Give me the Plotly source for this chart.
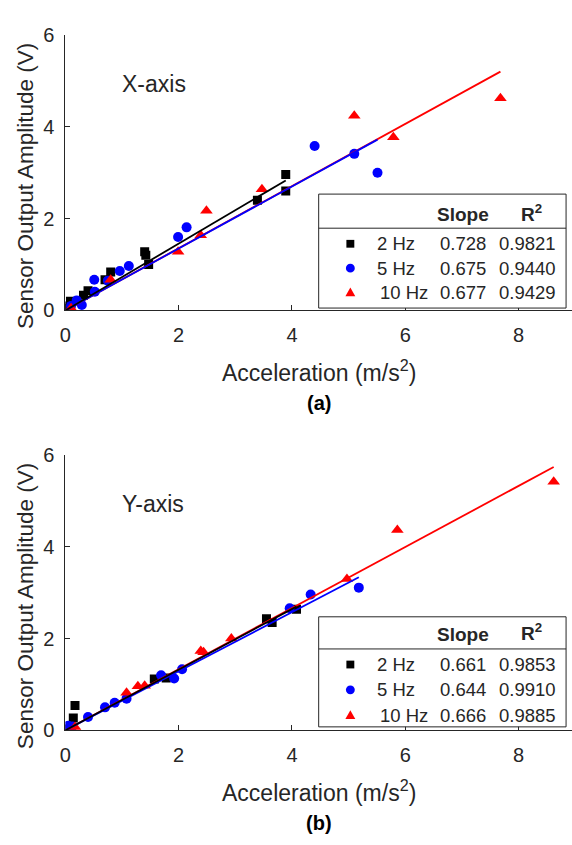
import plotly.graph_objects as go

# ---------------- data ----------------
# (a) X-axis
xa_2hz_x = [0.0, 0.09, 0.05, 0.32, 0.40, 0.70, 0.80, 1.40, 1.42, 1.47, 3.39, 3.89, 3.89]
xa_2hz_y = [0.05, 0.20, 0.10, 0.33, 0.43, 0.67, 0.84, 1.28, 1.20, 1.00, 2.40, 2.96, 2.60]
xa_5hz_x = [0.10, 0.20, 0.29, 0.51, 0.52, 0.75, 0.96, 1.12, 1.99, 2.14, 4.40, 5.10, 5.51]
xa_5hz_y = [0.10, 0.22, 0.12, 0.67, 0.41, 0.65, 0.86, 0.97, 1.60, 1.81, 3.58, 3.41, 3.00]
xa_10hz_x = [0.10, 0.80, 1.99, 2.39, 2.49, 3.47, 5.10, 5.79, 7.68]
xa_10hz_y = [0.05, 0.67, 1.28, 1.64, 2.17, 2.64, 4.24, 3.77, 4.62]
xa_slopes = [0.728, 0.675, 0.677]
xa_r2 = ["0.9821", "0.9440", "0.9429"]

# (b) Y-axis
ya_2hz_x = [0.03, 0.14, 0.17, 1.57, 1.78, 3.55, 3.65, 4.08]
ya_2hz_y = [0.03, 0.27, 0.54, 1.12, 1.14, 2.43, 2.35, 2.64]
ya_5hz_x = [0.05, 0.12, 0.40, 0.70, 0.87, 1.08, 1.69, 1.92, 2.06, 3.96, 4.33, 5.18]
ya_5hz_y = [0.10, 0.08, 0.29, 0.50, 0.60, 0.69, 1.20, 1.13, 1.33, 2.66, 2.96, 3.11]
ya_10hz_x = [0.17, 1.08, 1.28, 1.40, 2.39, 2.44, 2.93, 4.97, 5.86, 8.62]
ya_10hz_y = [0.07, 0.82, 0.96, 0.97, 1.73, 1.70, 2.00, 3.30, 4.37, 5.42]
ya_slopes = [0.661, 0.644, 0.666]
ya_r2 = ["0.9853", "0.9910", "0.9885"]

freq_labels = ["2 Hz", "5 Hz", "10 Hz"]
x_ticks = [0, 2, 4, 6, 8]
y_ticks = [0, 2, 4, 6]
panel_titles = ["X-axis", "Y-axis"]
panel_tags = ["(a)", "(b)"]

# ---------------- styling ----------------
W, H = 572, 845
FONT = "Liberation Sans, Arial, sans-serif"
TXT = "#262626"
colors = ["#000000", "#0000FF", "#FF0000"]
symbols = ["square", "circle", "triangle-up"]
msizes = [9, 10, 11]


def px(x):
    return x / W


def py(y):
    return 1 - y / H


fig = go.Figure()

panels = [
    dict(xs=[xa_2hz_x, xa_5hz_x, xa_10hz_x], ys=[xa_2hz_y, xa_5hz_y, xa_10hz_y],
         slopes=xa_slopes, r2=xa_r2, top=24.5, bottom=307.5, xa="x", ya="y",
         xa2="x2", box=(316, 566, 188, 305), hline=223, hdr=209, rows=[239, 264, 289]),
    dict(xs=[ya_2hz_x, ya_5hz_x, ya_10hz_x], ys=[ya_2hz_y, ya_5hz_y, ya_10hz_y],
         slopes=ya_slopes, r2=ya_r2, top=456, bottom=738.5, xa="x3", ya="y2",
         xa2="x4", box=(316, 566, 622, 735), hline=655, hdr=640, rows=[671, 697, 723]),
]

XL, XR = 60, 572
unit = 57.25
xmax = (XR - XL) / unit

shapes = []
annotations = []

for pi, p in enumerate(panels):
    # markers
    for k in range(3):
        fig.add_trace(go.Scatter(
            x=p["xs"][k], y=p["ys"][k], mode="markers", xaxis=p["xa"], yaxis=p["ya"],
            marker=dict(symbol=symbols[k], size=msizes[k], color=colors[k], line=dict(width=0)),
            showlegend=False, hoverinfo="skip"))
    # fit lines (through origin, slope from table)
    for k in [2, 1, 0]:
        xm = max(p["xs"][k])
        fig.add_trace(go.Scatter(
            x=[0, xm], y=[0, p["slopes"][k] * xm], mode="lines", xaxis=p["xa"], yaxis=p["ya"],
            line=dict(color=colors[k], width=1.8), showlegend=False, hoverinfo="skip"))

    # legend table
    x0, x1, y0, y1 = p["box"]
    shapes.append(dict(type="rect", xref="paper", yref="paper", x0=px(x0), x1=px(x1),
                       y0=py(y1), y1=py(y0), line=dict(color=TXT, width=1), fillcolor="white",
                       layer="above"))
    shapes.append(dict(type="line", xref="paper", yref="paper", x0=px(x0), x1=px(x1),
                       y0=py(p["hline"]), y1=py(p["hline"]), line=dict(color=TXT, width=1),
                       layer="above"))
    annotations.append(dict(text="<b>Slope</b>", x=px(462), y=py(p["hdr"]), xref="paper",
                            yref="paper", showarrow=False, xanchor="center", yanchor="middle",
                            font=dict(family=FONT, size=19, color=TXT)))
    annotations.append(dict(text="<b>R<sup>2</sup></b>", x=px(531), y=py(p["hdr"] - 2), xref="paper",
                            yref="paper", showarrow=False, xanchor="center", yanchor="middle",
                            font=dict(family=FONT, size=19, color=TXT)))
    for k in range(3):
        ry = p["rows"][k]
        mx = 348
        if k == 0:
            shapes.append(dict(type="rect", xref="paper", yref="paper", x0=px(mx - 4), x1=px(mx + 4),
                               y0=py(ry + 4), y1=py(ry - 4), fillcolor=colors[k],
                               line=dict(width=0), layer="above"))
        elif k == 1:
            shapes.append(dict(type="circle", xref="paper", yref="paper", x0=px(mx - 4.5),
                               x1=px(mx + 4.5), y0=py(ry + 4.5), y1=py(ry - 4.5),
                               fillcolor=colors[k], line=dict(width=0), layer="above"))
        else:
            path = "M {} {} L {} {} L {} {} Z".format(px(mx - 5), py(ry + 4), px(mx + 5), py(ry + 4),
                                                       px(mx), py(ry - 5))
            shapes.append(dict(type="path", xref="paper", yref="paper", path=path,
                               fillcolor=colors[k], line=dict(width=0), layer="above"))
        annotations.append(dict(text=freq_labels[k], x=px(373 if k < 2 else 376), y=py(ry),
                                xref="paper", yref="paper", showarrow=False, xanchor="left",
                                yanchor="middle", font=dict(family=FONT, size=18.5, color=TXT)))
        annotations.append(dict(text="{:.3f}".format(p["slopes"][k]), x=px(437), y=py(ry),
                                xref="paper", yref="paper", showarrow=False, xanchor="left",
                                yanchor="middle", font=dict(family=FONT, size=18.5, color=TXT)))
        annotations.append(dict(text=p["r2"][k], x=px(496), y=py(ry),
                                xref="paper", yref="paper", showarrow=False, xanchor="left",
                                yanchor="middle", font=dict(family=FONT, size=18.5, color=TXT)))

    # panel title, axis titles, tag
    annotations.append(dict(text=panel_titles[pi], x=px(115), y=py(p["top"] + 50), xref="paper",
                            yref="paper", showarrow=False, xanchor="left", yanchor="middle",
                            font=dict(family=FONT, size=23, color=TXT)))
    annotations.append(dict(text="Acceleration (m/s<sup>2</sup>)", x=px(316),
                            y=py(p["bottom"] + 62), xref="paper", yref="paper", showarrow=False,
                            xanchor="center", yanchor="middle",
                            font=dict(family=FONT, size=23, color=TXT)))
    annotations.append(dict(text="<b>" + panel_tags[pi] + "</b>", x=px(316),
                            y=py(p["bottom"] + 95), xref="paper", yref="paper", showarrow=False,
                            xanchor="center", yanchor="middle",
                            font=dict(family=FONT, size=20, color="#000000")))
    annotations.append(dict(text="Sensor Output Amplitude (V)", x=px(20),
                            y=py((p["top"] + p["bottom"]) / 2 + 14), xref="paper", yref="paper",
                            showarrow=False, xanchor="center", yanchor="middle", textangle=-90,
                            font=dict(family=FONT, size=22.5, color=TXT)))

axis_common = dict(showline=True, linecolor=TXT, linewidth=1, ticks="inside", ticklen=5,
                   tickcolor=TXT, showgrid=False, zeroline=False,
                   tickfont=dict(family=FONT, size=20, color=TXT))

xdom = [px(XL), 1.0]
ydom1 = [py(panels[0]["bottom"]), py(panels[0]["top"])]
ydom2 = [py(panels[1]["bottom"]), py(panels[1]["top"])]

fig.update_layout(
    width=W, height=H, margin=dict(l=0, r=0, t=0, b=0),
    paper_bgcolor="white", plot_bgcolor="white",
    xaxis=dict(domain=xdom, range=[0, xmax], anchor="y", tickvals=x_ticks,
               ticklabelstandoff=7, **axis_common),
    xaxis2=dict(domain=xdom, range=[0, xmax], anchor="y", overlaying="x", side="top",
                tickvals=x_ticks, showticklabels=False, **axis_common),
    yaxis=dict(domain=ydom1, range=[0, 6], anchor="x", tickvals=y_ticks,
               ticklabelstandoff=6, **axis_common),
    xaxis3=dict(domain=xdom, range=[0, xmax], anchor="y2", tickvals=x_ticks,
                ticklabelstandoff=7, **axis_common),
    xaxis4=dict(domain=xdom, range=[0, xmax], anchor="y2", overlaying="x3", side="top",
                tickvals=x_ticks, showticklabels=False, **axis_common),
    yaxis2=dict(domain=ydom2, range=[0, 6], anchor="x3", tickvals=y_ticks,
                ticklabelstandoff=6, **axis_common),
    shapes=shapes, annotations=annotations,
)

fig.write_html("out.html")
